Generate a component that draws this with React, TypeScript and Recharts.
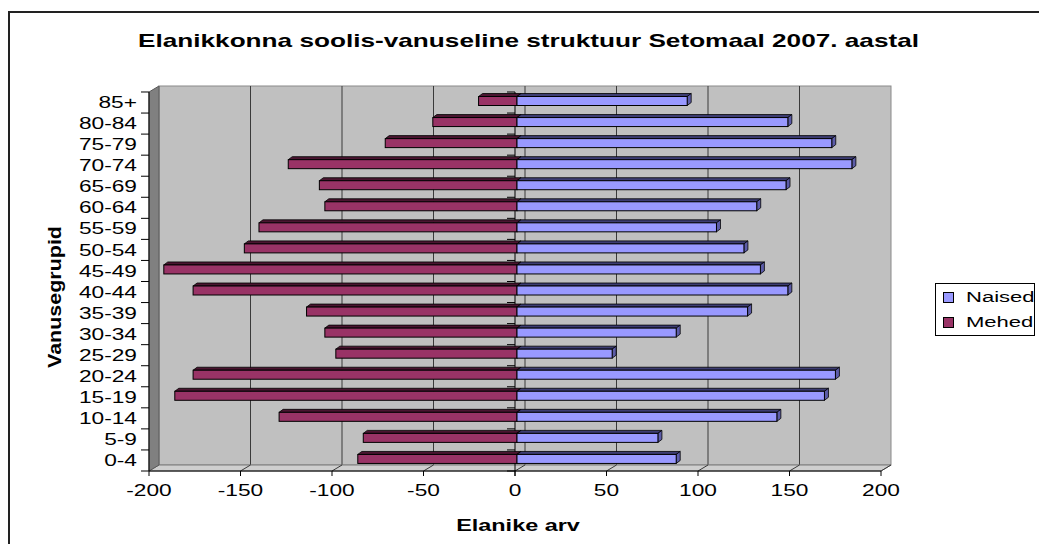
import React from 'react';
import { BarChart, Bar, XAxis, YAxis, ReferenceArea, Legend } from 'recharts';

const ageGroups = ['85+', '80-84', '75-79', '70-74', '65-69', '60-64', '55-59', '50-54', '45-49', '40-44', '35-39', '30-34', '25-29', '20-24', '15-19', '10-14', '5-9', '0-4'];
const naised = [93, 148, 172, 183, 147, 131, 109, 124, 133, 148, 126, 87, 52, 174, 168, 142, 77, 87];
const mehed = [-21, -46, -72, -125, -108, -105, -141, -149, -193, -177, -115, -105, -99, -177, -187, -130, -84, -87];
const xTicks = [-200, -150, -100, -50, 0, 50, 100, 150, 200];
const titleText = 'Elanikkonna soolis-vanuseline struktuur Setomaal 2007. aastal';
const xTitle = 'Elanike arv';
const yTitle = 'Vanusegrupid';
const legendItems = [
  { key: 'naised', name: 'Naised', color: '#9999FF' },
  { key: 'mehed', name: 'Mehed', color: '#993366' },
];

const data = ageGroups.map((g, i) => ({ group: g, naised: naised[i], mehed: mehed[i] }));

const FONT = '"Liberation Sans", Arial, Helvetica, sans-serif';
const SX = 1.42;
const DEPTH_X = 10;
const DEPTH_Y = -6;

const Backdrop = (props: any) => {
  const { x, y, width, height } = props;
  const X = Math.min(x, x + width);
  const W = Math.abs(width);
  const Y = Math.min(y, y + height);
  const H = Math.abs(height);
  const lo = xTicks[0];
  const hi = xTicks[xTicks.length - 1];
  const pos = (v: number) => X + ((v - lo) / (hi - lo)) * W;
  const n = ageGroups.length;
  const band = H / n;
  const zx = pos(0);
  return (
    <g>
      <rect x={X + DEPTH_X} y={Y + DEPTH_Y} width={W} height={H} fill="#C0C0C0" stroke="#8a8a8a" strokeWidth={1} />
      {xTicks.slice(1, -1).map((v) => (
        <line key={'g' + v} x1={pos(v) + DEPTH_X} y1={Y + DEPTH_Y} x2={pos(v) + DEPTH_X} y2={Y + H + DEPTH_Y} stroke="#3a3a3a" strokeWidth={1} />
      ))}
      <polygon
        points={`${X},${Y + H} ${X + DEPTH_X},${Y + H + DEPTH_Y} ${X + W + DEPTH_X},${Y + H + DEPTH_Y} ${X + W},${Y + H}`}
        fill="#CFCFCF"
        stroke="#7a7a7a"
        strokeWidth={1}
      />
      {xTicks.slice(1).map((v) => (
        <line key={'f' + v} x1={pos(v)} y1={Y + H} x2={pos(v) + DEPTH_X} y2={Y + H + DEPTH_Y} stroke="#3a3a3a" strokeWidth={1} />
      ))}
      <polygon
        points={`${X},${Y} ${X + DEPTH_X},${Y + DEPTH_Y} ${X + DEPTH_X},${Y + H + DEPTH_Y} ${X},${Y + H}`}
        fill="#808080"
        stroke="#5a5a5a"
        strokeWidth={1}
      />
      <line x1={zx} y1={Y} x2={zx} y2={Y + H + 5} stroke="#000" strokeWidth={1} />
      {Array.from({ length: n + 1 }).map((_, i) => (
        <line key={'zt' + i} x1={zx - 8} y1={Y + i * band} x2={zx} y2={Y + i * band} stroke="#000" strokeWidth={1} />
      ))}
    </g>
  );
};

const make3DBar = (face: string, top: string, side: string) => (props: any) => {
  const { x, y, width, height } = props;
  if (!width || !height) return <g />;
  const x0 = Math.min(x, x + width) + 2;
  const w = Math.abs(width);
  const y0 = y - 1.5;
  const h = height;
  const bx = 4;
  const by = -3;
  return (
    <g>
      <polygon
        points={`${x0},${y0} ${x0 + bx},${y0 + by} ${x0 + w + bx},${y0 + by} ${x0 + w},${y0}`}
        fill={top}
        stroke="#000"
        strokeWidth={0.8}
      />
      <polygon
        points={`${x0 + w},${y0} ${x0 + w + bx},${y0 + by} ${x0 + w + bx},${y0 + h + by} ${x0 + w},${y0 + h}`}
        fill={side}
        stroke="#000"
        strokeWidth={0.8}
      />
      <rect x={x0} y={y0} width={w} height={h} fill={face} stroke="#000" strokeWidth={1} />
    </g>
  );
};

const MenBar = make3DBar('#993366', '#4A1530', '#6E2248');
const WomenBar = make3DBar('#9999FF', '#3D3D73', '#5C5CA8');

const YTick = (props: any) => {
  const { x, y, payload, index } = props;
  const ax = x + 12;
  const half = 10.53;
  return (
    <g>
      <line x1={ax - 8} y1={y - half} x2={ax} y2={y - half} stroke="#000" strokeWidth={1} />
      {index === ageGroups.length - 1 && (
        <line x1={ax - 8} y1={y + half} x2={ax} y2={y + half} stroke="#000" strokeWidth={1} />
      )}
      <text
        transform={`translate(${x},${y}) scale(${SX},1)`}
        textAnchor="end"
        dy="0.35em"
        fontSize={16}
        fontFamily={FONT}
        fill="#000"
      >
        {payload.value}
      </text>
    </g>
  );
};

const XTick = (props: any) => {
  const { x, y, payload } = props;
  return (
    <text
      transform={`translate(${x},${y}) scale(${SX},1)`}
      textAnchor="middle"
      dy="0.71em"
      fontSize={16}
      fontFamily={FONT}
      fill="#000"
    >
      {payload.value}
    </text>
  );
};

const LegendBox = () => (
  <div
    style={{
      width: 100,
      height: 53,
      boxSizing: 'border-box',
      border: '1px solid #000',
      background: '#fff',
      position: 'relative',
      fontFamily: FONT,
    }}
  >
    {legendItems.map((it, i) => (
      <div key={it.key} style={{ position: 'absolute', left: 0, top: 4 + i * 25, height: 18, width: 98 }}>
        <div
          style={{
            position: 'absolute',
            left: 7,
            top: 4,
            width: 9,
            height: 9,
            background: it.color,
            border: '1px solid #000',
          }}
        />
        <div
          style={{
            position: 'absolute',
            left: 30,
            top: 0,
            fontSize: 15.5,
            lineHeight: '18px',
            color: '#000',
            transform: `scaleX(${SX})`,
            transformOrigin: 'left center',
            whiteSpace: 'nowrap',
          }}
        >
          {it.name}
        </div>
      </div>
    ))}
  </div>
);

export default function App() {
  return (
    <div
      style={{
        position: 'fixed',
        left: 0,
        top: 0,
        width: 1039,
        height: 544,
        overflow: 'hidden',
        background: '#fff',
      }}
    >
      <div
        style={{
          position: 'absolute',
          left: 8,
          top: 11,
          width: 1200,
          height: 800,
          borderLeft: '2px solid #222',
          borderTop: '2px solid #222',
        }}
      />
      <div style={{ position: 'absolute', left: 8, top: 8, width: 1031, height: 536 }}>
        <BarChart
          width={1031}
          height={536}
          data={data}
          layout="vertical"
          stackOffset="sign"
          margin={{ top: 84, right: 158, bottom: 13, left: 41 }}
        >
          <ReferenceArea x1={-200} x2={200} ifOverflow="visible" shape={Backdrop} zIndex={-10} />
          <XAxis
            type="number"
            domain={[-200, 200]}
            ticks={xTicks}
            interval={0}
            height={60}
            tickSize={5}
            tickMargin={9}
            axisLine={{ stroke: '#000' }}
            tickLine={{ stroke: '#000' }}
            tick={XTick}
          />
          <YAxis
            type="category"
            dataKey="group"
            width={100}
            interval={0}
            tickSize={8}
            tickMargin={4}
            tickLine={false}
            axisLine={{ stroke: '#000' }}
            tick={YTick}
          />
          <Legend
            layout="vertical"
            align="center"
            verticalAlign="middle"
            wrapperStyle={{ left: 927, top: 275, width: 100 }}
            content={LegendBox}
          />
          <Bar dataKey="mehed" name="Mehed" stackId="a" barSize={9} fill="#993366" shape={MenBar} isAnimationActive={false} />
          <Bar dataKey="naised" name="Naised" stackId="a" barSize={9} fill="#9999FF" shape={WomenBar} isAnimationActive={false} />
        </BarChart>
        <svg
          width={1031}
          height={536}
          style={{ position: 'absolute', left: 0, top: 0, pointerEvents: 'none' }}
        >
          <text
            x={520.5}
            y={38.7}
            textAnchor="middle"
            fontWeight="bold"
            fontSize={18.5}
            fontFamily={FONT}
            textLength={781}
            lengthAdjust="spacingAndGlyphs"
            fill="#000"
          >
            {titleText}
          </text>
          <text
            transform="translate(53,289) rotate(-90)"
            textAnchor="middle"
            fontWeight="bold"
            fontSize={18}
            fontFamily={FONT}
            textLength={142}
            lengthAdjust="spacingAndGlyphs"
            fill="#000"
          >
            {yTitle}
          </text>
          <text
            transform={`translate(510,523) scale(${SX},1)`}
            textAnchor="middle"
            fontWeight="bold"
            fontSize={16.5}
            fontFamily={FONT}
            fill="#000"
          >
            {xTitle}
          </text>
        </svg>
      </div>
    </div>
  );
}
